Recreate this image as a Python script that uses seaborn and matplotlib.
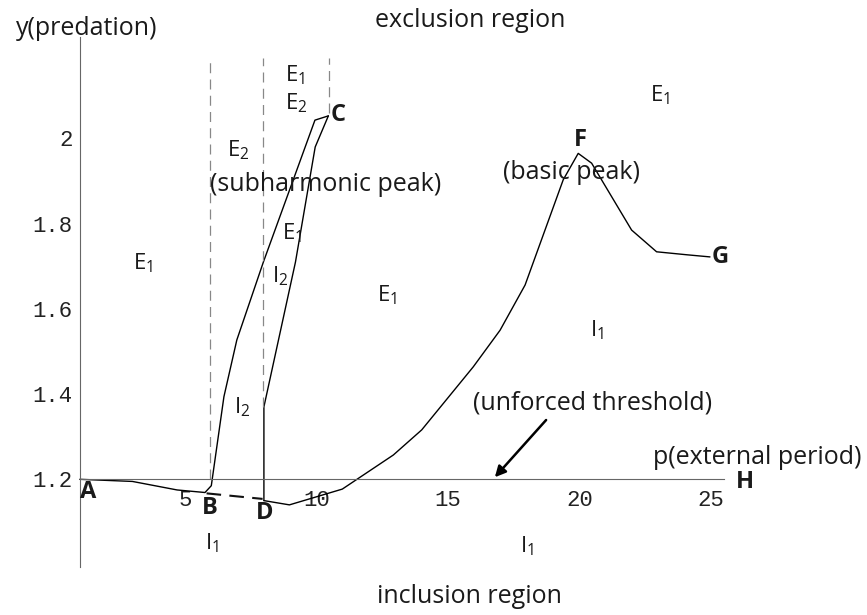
import numpy as np
import pandas as pd
import matplotlib
matplotlib.use('Agg')
import matplotlib.pyplot as plt
import seaborn as sns

# curva A-B-C (rama izquierda, pico subarmonico)
abc_p = [1.0, 3.0, 4.7, 5.76, 6.0, 6.48, 6.97, 7.98, 9.94, 10.45]
abc_y = [1.2, 1.195, 1.175, 1.169, 1.185, 1.394, 1.527, 1.71, 2.043, 2.053]

# curva D-C (rama derecha)
dc_p = [8.0, 8.0, 9.2, 9.95, 10.45]
dc_y = [1.15, 1.37, 1.71, 1.98, 2.053]

# curva D-F-G (pico basico)
dfg_p = [8.0, 8.97, 10.98, 12.92, 14.0, 15.96, 16.98, 17.93, 19.38, 19.95, 20.46, 21.98, 22.93, 24.08, 24.96]
dfg_y = [1.15, 1.14, 1.177, 1.257, 1.316, 1.464, 1.55, 1.656, 1.903, 1.965, 1.942, 1.785, 1.734, 1.727, 1.722]

# tramo discontinuo B-D
bd_p = [5.82, 7.95]
bd_y = [1.167, 1.154]

# lineas verticales discontinuas (p, y inferior)
vline_p = [5.95, 7.95, 10.47]
vline_ylow = [1.2, 1.37, 2.06]
vline_ytop = 2.19

xticks = [5, 10, 15, 20, 25]
xticklabels = ['5', '10', '15', '20', '25']
yticks = [1.2, 1.4, 1.6, 1.8, 2.0]
yticklabels = ['1.2', '1.4', '1.6', '1.8', '2']

# etiquetas de regiones: (texto, p, y)
region_labels = [
    ('E$_1$', 3.41, 1.707), ('E$_1$', 12.67, 1.633), ('I$_2$', 8.61, 1.676),
    ('I$_2$', 7.16, 1.370), ('E$_1$', 9.06, 1.777), ('E$_2$', 7.03, 1.973),
    ('E$_1$', 9.18, 2.149), ('E$_2$', 9.25, 2.083), ('E$_1$', 23.06, 2.101),
    ('I$_1$', 20.65, 1.550), ('I$_1$', 6.01, 1.05), ('I$_1$', 18.0, 1.044),
]
point_labels = [
    ('A', 1.32, 1.171), ('B', 5.95, 1.133), ('C', 10.82, 2.055), ('D', 8.04, 1.120),
    ('F', 20.02, 1.996), ('G', 25.34, 1.722), ('H', 26.29, 1.194),
]

sns.set_theme(style='white')
plt.rcParams['font.family'] = ['Open Sans', 'DejaVu Sans']
plt.rcParams['mathtext.fontset'] = 'custom'
plt.rcParams['mathtext.rm'] = 'Open Sans'
plt.rcParams['mathtext.default'] = 'regular'

fig = plt.figure(figsize=(8.67, 6.15), dpi=100)
ax = fig.add_axes([0, 0, 1, 1])
ax.set_xlim(-2.034, 30.93)
ax.set_ylim(0.8815, 2.325)

lw = 1.0
for px, py in [(abc_p, abc_y), (dc_p, dc_y), (dfg_p, dfg_y)]:
    df = pd.DataFrame({'p': px, 'y': py})
    sns.lineplot(data=df, x='p', y='y', sort=False, estimator=None, color='black', lw=lw, ax=ax)

sns.lineplot(x=bd_p, y=bd_y, sort=False, estimator=None, color='#111111', lw=1.5,
             dashes=False, ax=ax).lines[-1].set_dashes([7, 4])

for p, ylow in zip(vline_p, vline_ylow):
    ax.plot([p, p], [ylow, vline_ytop], color='#888888', lw=0.9, dashes=[8, 5])

# ejes estilo Mathematica
for s in ['top', 'right']:
    ax.spines[s].set_visible(False)
ax.spines['left'].set_position(('data', 1))
ax.spines['left'].set_bounds(0.995, 2.238)
ax.spines['bottom'].set_position(('data', 1.2))
ax.spines['bottom'].set_bounds(1, 25.5)
for s in ['left', 'bottom']:
    ax.spines[s].set_color('#666666')
    ax.spines[s].set_linewidth(0.8)

ax.set_xticks(xticks)
ax.set_xticklabels(xticklabels)
ax.set_xticks(range(2, 26), minor=True)
ax.set_yticks(yticks)
ax.set_yticklabels(yticklabels)
ax.set_yticks([v for v in np.arange(1.05, 2.21, 0.05) if min(abs(v - t) for t in yticks) > 0.01], minor=True)
ax.tick_params(which='both', direction='in', color='#777777', width=0.7)
ax.tick_params(which='major', length=4)
ax.tick_params(which='minor', length=2.5)
ax.tick_params(axis='x', which='major', pad=8)
ax.tick_params(axis='y', which='major', pad=5)
for lab in ax.get_xticklabels() + ax.get_yticklabels():
    lab.set_fontfamily('Liberation Mono')
    lab.set_fontsize(16)
    lab.set_color('#222222')
ax.set_xlabel('')
ax.set_ylabel('')

tc = '#1a1a1a'
fs = 18
ax.text(1.27, 2.259, 'y(predation)', fontsize=fs, color=tc, ha='center', va='center')
ax.text(15.83, 2.278, 'exclusion region', fontsize=fs, color=tc, ha='center', va='center')
ax.text(15.83, 0.924, 'inclusion region', fontsize=fs, color=tc, ha='center', va='center')
ax.text(26.75, 1.252, 'p(external period)', fontsize=fs, color=tc, ha='center', va='center')
ax.text(20.51, 1.379, '(unforced threshold)', fontsize=fs, color=tc, ha='center', va='center')
ax.text(10.36, 1.891, '(subharmonic peak)', fontsize=fs, color=tc, ha='center', va='center')
ax.text(19.70, 1.919, '(basic peak)', fontsize=fs, color=tc, ha='center', va='center')

for t, p, y in region_labels:
    ax.text(p, y, t, fontsize=16, color=tc, ha='center', va='center')
for t, p, y in point_labels:
    ax.text(p, y, t, fontsize=17, fontweight='bold', color=tc, ha='center', va='center')

ax.annotate('', xy=(16.71, 1.2), xytext=(18.8, 1.344),
            arrowprops=dict(arrowstyle='-|>', color='black', lw=1.8, mutation_scale=16))

fig.savefig('out.png', dpi=100)
